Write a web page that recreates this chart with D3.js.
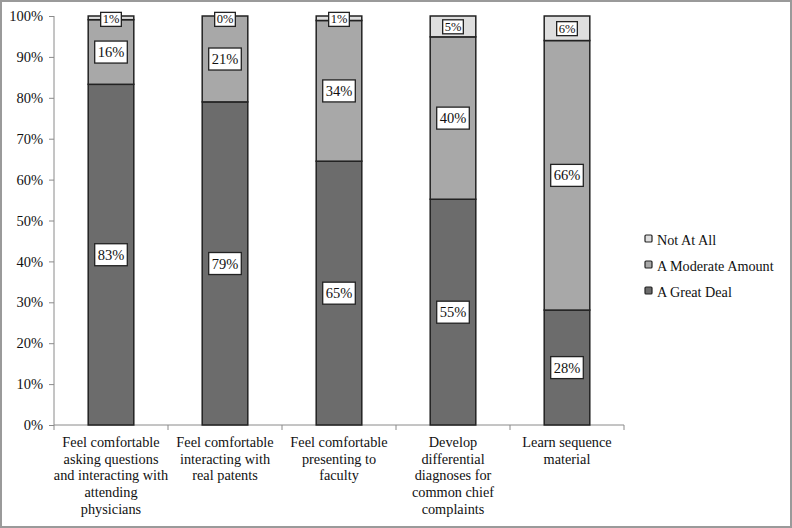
<!DOCTYPE html>
<html><head><meta charset="utf-8">
<script src="https://cdn.jsdelivr.net/npm/d3@7"></script>
<style>body{margin:0;background:#fff}svg{display:block}text{font-family:"Liberation Serif","Times New Roman",serif}</style>
</head><body>
<svg id="c" width="792" height="528"></svg>
<script>
const categories = [
  ["Feel comfortable","asking questions","and interacting with","attending","physicians"],
  ["Feel comfortable","interacting with","real patents"],
  ["Feel comfortable","presenting to","faculty"],
  ["Develop","differential","diagnoses for","common chief","complaints"],
  ["Learn sequence","material"]
];
const seriesNames = ["A Great Deal","A Moderate Amount","Not At All"];
const greatDeal = [83.3, 79, 64.5, 55.2, 28.1];
const moderate = [15.8, 21, 34.4, 39.7, 65.9];
const notAtAll = [0.9, 0, 1.1, 5.1, 6.0];
const yTicks = [0,10,20,30,40,50,60,70,80,90,100];
const colors = ["#6c6c6c","#a8a8a8","#dedede"];

const svg = d3.select("#c");
svg.append("rect").attr("x",1).attr("y",1).attr("width",790).attr("height",526)
  .attr("fill","#fff").attr("stroke","#9a9a9a").attr("stroke-width",2);

const x0 = 54, x1 = 624, yb = 425, yt = 16;
const x = d3.scaleBand().domain(d3.range(categories.length)).range([x0,x1]).paddingInner(0.6).paddingOuter(0.3);
const xb = d3.scaleBand().domain(d3.range(categories.length)).range([x0,x1]);
const y = d3.scaleLinear().domain([0,100]).range([yb,yt]);

// y axis
const ya = svg.append("g").attr("transform",`translate(${x0},0)`)
  .call(d3.axisLeft(y).tickValues(yTicks).tickSize(5).tickFormat(d=>d+"%"));
ya.select(".domain").attr("stroke","#8a8a8a").attr("d",`M0,${yb}V${yt}`);
ya.selectAll(".tick line").attr("stroke","#8a8a8a");
ya.selectAll("text").attr("font-size",14.5).attr("fill","#111").attr("x",-11).attr("font-family",null);

// x axis
const xg = svg.append("g");
xg.append("line").attr("x1",x0).attr("x2",x1).attr("y1",yb).attr("y2",yb).attr("stroke","#8a8a8a");
xg.selectAll(".bt").data(d3.range(categories.length+1)).enter().append("line")
  .attr("x1",i=>x0+i*xb.bandwidth()).attr("x2",i=>x0+i*xb.bandwidth())
  .attr("y1",yb).attr("y2",yb+5).attr("stroke","#8a8a8a");
categories.forEach((lines,i)=>{
  const t = svg.append("text").attr("font-size",14.3).attr("fill","#111")
    .attr("text-anchor","middle");
  lines.forEach((l,j)=>t.append("tspan").attr("x",xb(i)+xb.bandwidth()/2).attr("y",447+j*16.7).text(l));
});

// stacked data
const rows = categories.map((c,i)=>({i, a:greatDeal[i], b:moderate[i], c:notAtAll[i]}));
const stack = d3.stack().keys(["a","b","c"])(rows);
stack.forEach((s,k)=>{
  svg.append("g").selectAll("rect").data(s).enter().append("rect")
    .attr("x",d=>x(d.data.i)).attr("width",x.bandwidth())
    .attr("y",d=>y(d[1])).attr("height",d=>y(d[0])-y(d[1]))
    .attr("fill",colors[k]).attr("stroke","#222").attr("stroke-width",1.5);
});
// labels
stack.forEach((s,k)=>{
  s.forEach(d=>{
    const v = d[1]-d[0];
    const cx = x(d.data.i)+x.bandwidth()/2;
    let cy = (y(d[0])+y(d[1]))/2;
    if (k===2) cy = Math.max(cy, yt+3);
    const small = k===2;
    const g = svg.append("g");
    const t = g.append("text").attr("x",cx).attr("y",cy).attr("dy","0.35em")
      .attr("text-anchor","middle").attr("font-size",small?12.5:14.5).attr("fill","#111")
      .text(Math.round(v)+"%");
    const bb = t.node().getBBox();
    const px = small?2:3, py = small?0:3;
    g.insert("rect","text").attr("x",bb.x-px).attr("y",bb.y-py).attr("width",bb.width+2*px).attr("height",bb.height+2*py)
      .attr("fill","#fff").attr("stroke","#222").attr("stroke-width",1.3);
  });
});

// legend
const legOrder = [2,1,0];
legOrder.forEach((k,j)=>{
  const ly = 240 + j*26;
  svg.append("rect").attr("x",645).attr("y",ly-5).attr("width",7).attr("height",7).attr("rx",1)
    .attr("fill",colors[k]).attr("stroke","#222").attr("stroke-width",1.2);
  svg.append("text").attr("x",657).attr("y",ly).attr("dy","0.35em")
    .attr("font-size",14.2).attr("fill","#111").text(seriesNames[k]);
});
</script>
</body></html>
